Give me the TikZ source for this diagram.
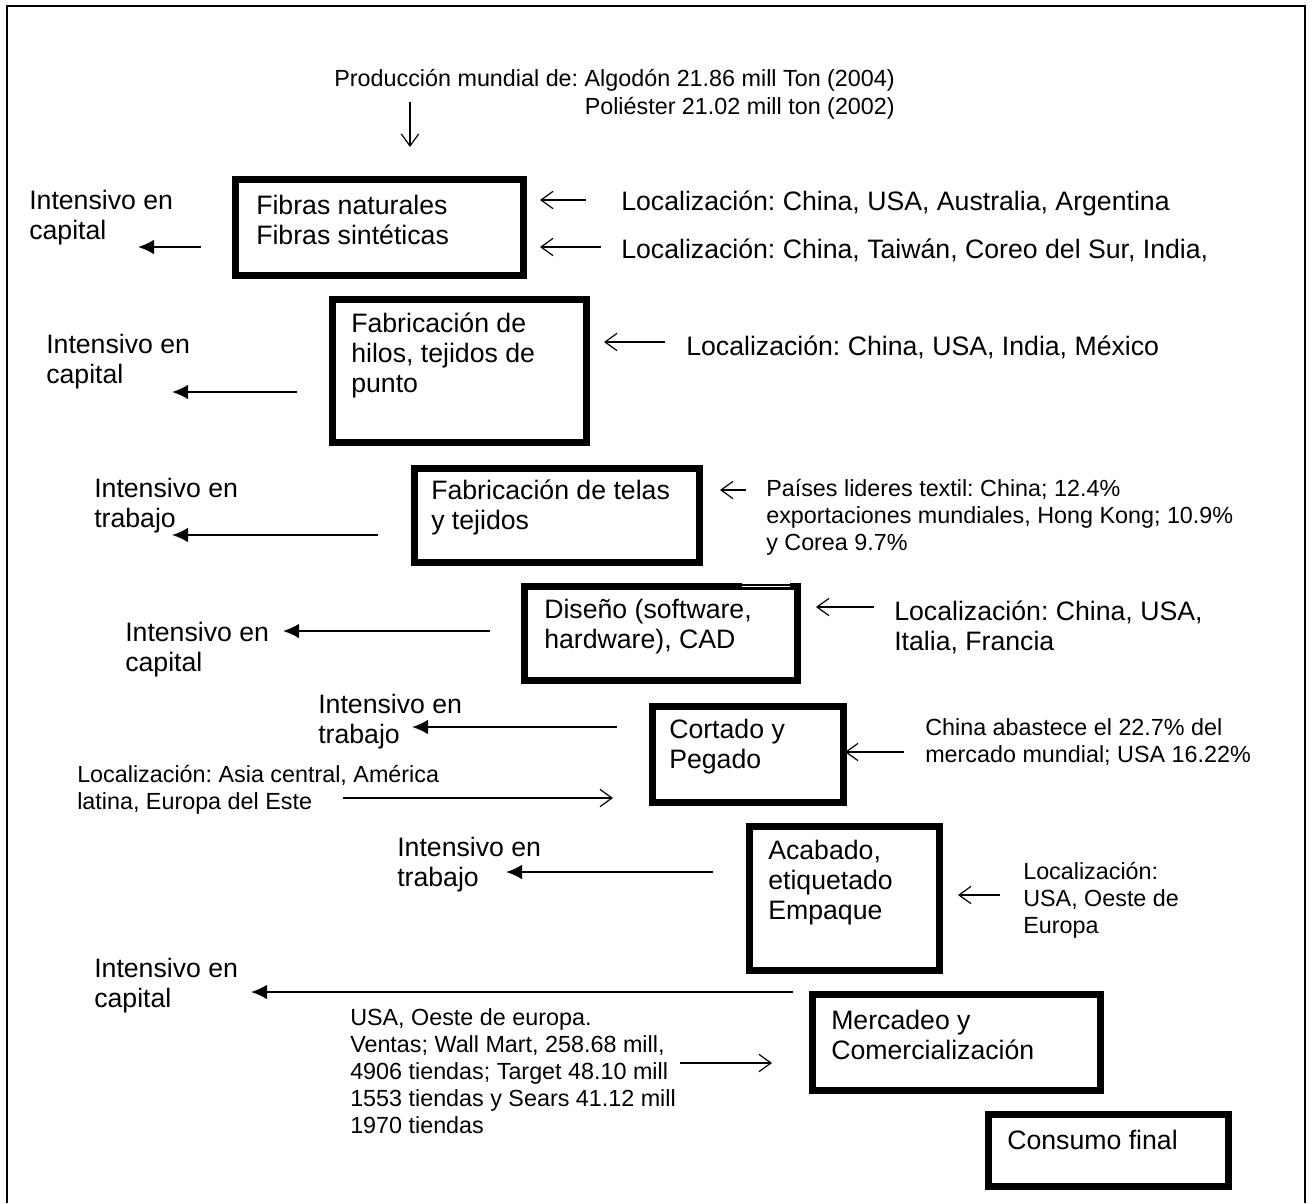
\documentclass[tikz,border=0pt]{standalone}
\usepackage{fontspec}
\setmainfont{Liberation Sans}
\usetikzlibrary{arrows.meta,positioning}
\frenchspacing

\newcommand{\grande}{\fontsize{20}{22.5}\selectfont}
\newcommand{\chico}{\fontsize{17.5}{20.3}\selectfont}

\begin{document}
\begin{tikzpicture}[x=0.75pt, y=-0.75pt,
    caja/.style 2 args={draw, line width=5pt, anchor=north west, inner sep=0pt,
        minimum width=#1*0.75pt, minimum height=#2*0.75pt},
    txt/.style={anchor=west, inner sep=0pt, align=left, font=\grande},
    nota/.style={anchor=west, inner sep=0pt, align=left, font=\chico},
    flecha/.style={line width=1.5pt, -{Latex[length=12pt,width=11pt]}},
    entra/.style={line width=0.9pt, -{Straight Barb[length=9pt,width=13pt]}}]
    \useasboundingbox (0,0) rectangle (1312,1203);
    \draw[line width=1.5pt] (7,1203) -- (7,6) -- (1305,6) -- (1305,1203);

    % produccion mundial
    \node[nota, anchor=east, align=right, font=\fontsize{17.5}{21}\selectfont] (prod) at (895,94)
        {Producción mundial de: Algodón 21.86 mill Ton (2004)\\Poliéster 21.02 mill ton (2002)};
    \draw[entra] (410,102) coordinate (p0) -- (410,147) coordinate (p1);

    % cajas de la cadena
    \node[caja={288}{96}] (b1) at (232,176) {};
    \node[caja={254}{143}] (b2) at (329,296) {};
    \node[caja={285}{94}] (b3) at (411,465) {};
    \node[caja={273}{94}] (b4) at (521,583) {};
    \fill[white] (742,577) rectangle (790,587);
    \draw[line width=1.5pt] (742,585) -- (794,585);
    \node[caja={191}{96}] (b5) at (649,703) {};
    \node[caja={190}{144}] (b6) at (746,823) {};
    \node[caja={288}{96}] (b7) at (809,991) {};
    \node[caja={240}{72}] (b8) at (985,1111) {};

    \node[txt] (t1) at (256,220) {Fibras naturales\\Fibras sintéticas};
    \node[txt] (t2) at (351,355) {Fabricación de\\hilos, tejidos de\\punto};
    \node[txt] (t3) at (431,507) {Fabricación de telas\\y tejidos};
    \node[txt] (t4) at (544,627) {Diseño (software,\\hardware), CAD};
    \node[txt] (t5) at (669,747) {Cortado y\\Pegado};
    \node[txt] (t6) at (768,883) {Acabado,\\etiquetado\\Empaque};
    \node[txt] (t7) at (831,1035) {Mercadeo y\\Comercialización};
    \node[txt] (t8) at (1007,1140) {Consumo final};

    % intensidad
    \node[txt] (i1) at (29,218) {Intensivo en\\capital};
    \node[txt] (i2) at (46,362) {Intensivo en\\capital};
    \node[txt] (i3) at (94,506) {Intensivo en\\trabajo};
    \node[txt] (i4) at (125,650) {Intensivo en\\capital};
    \node[txt] (i5) at (318,722) {Intensivo en\\trabajo};
    \node[txt] (i6) at (397,865) {Intensivo en\\trabajo};
    \node[txt] (i7) at (94,986) {Intensivo en\\capital};

    \draw[flecha] (201,247) coordinate (s1) -- (138,247) coordinate (e1);
    \draw[flecha] (297,392) coordinate (s2) -- (172,392) coordinate (e2);
    \draw[flecha] (378,535) coordinate (s3) -- (172,535) coordinate (e3);
    \draw[flecha] (490,631) coordinate (s4) -- (283,631) coordinate (e4);
    \draw[flecha] (617,727) coordinate (s5) -- (412,727) coordinate (e5);
    \draw[flecha] (713,872) coordinate (s6) -- (506,872) coordinate (e6);
    \draw[flecha] (793,992) coordinate (s7) -- (251,992) coordinate (e7);

    % localizacion
    \node[txt] (l1) at (621,203) {Localización: China, USA, Australia, Argentina};
    \node[txt] (l1b) at (621,250) {Localización: China, Taiwán, Coreo del Sur, India,};
    \node[txt] (l2) at (686,347) {Localización: China, USA, India, México};
    \node[nota] (l3) at (766,517) {Países lideres textil: China; 12.4\%\\exportaciones mundiales, Hong Kong; 10.9\%\\y Corea 9.7\%};
    \node[txt] (l4) at (894,627) {Localización: China, USA,\\Italia, Francia};
    \node[nota] (l5) at (925,742) {China abastece el 22.7\% del\\mercado mundial; USA 16.22\%};
    \node[nota] (l5b) at (77,790) {Localización: Asia central, América\\latina, Europa del Este};
    \node[nota] (l6) at (1023,900) {Localización:\\USA, Oeste de\\Europa};
    \node[nota] (l7) at (350,1071) {USA, Oeste de europa.\\Ventas; Wall Mart, 258.68 mill,\\4906 tiendas; Target 48.10 mill\\1553 tiendas y Sears 41.12 mill\\1970 tiendas};

    \draw[entra] (586,200) coordinate (r1) -- (540,200) coordinate (q1);
    \draw[entra] (601,247) coordinate (r1b) -- (540,247) coordinate (q1b);
    \draw[entra] (665,342) coordinate (r2) -- (604,342) coordinate (q2);
    \draw[entra] (746,490) coordinate (r3) -- (720,490) coordinate (q3);
    \draw[entra] (874,607) coordinate (r4) -- (816,607) coordinate (q4);
    \draw[entra] (904,752) coordinate (r5) -- (845,752) coordinate (q5);
    \draw[entra] (343,798) coordinate (r5b) -- (613,798) coordinate (q5b);
    \draw[entra] (1000,895) coordinate (r6) -- (958,895) coordinate (q6);
    \draw[entra] (680,1063) coordinate (r7) -- (772,1063) coordinate (q7);
\end{tikzpicture}
\end{document}
